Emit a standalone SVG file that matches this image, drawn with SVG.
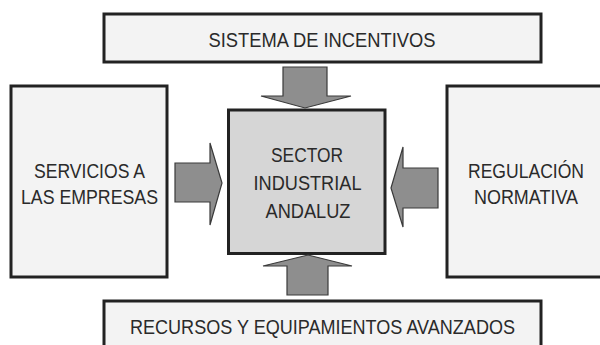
<svg xmlns="http://www.w3.org/2000/svg" width="600" height="345" viewBox="0 0 600 345">
<style>
.box{fill:#f3f3f3;stroke:#222;stroke-width:3}
.core{fill:#d6d6d6;stroke:#222;stroke-width:3}
.arr{fill:#8e8e8e;stroke:#3a3a3a;stroke-width:1.2;stroke-linejoin:miter}
text{font-family:"Liberation Sans",Arial,sans-serif;font-size:20.5px;fill:#2a2a2a;text-anchor:middle}
</style>
<rect width="600" height="345" fill="#ffffff"/>
<g id="top">
<rect class="box" x="104" y="14" width="437" height="48"/>
<text x="322" y="47" textLength="227" lengthAdjust="spacingAndGlyphs">SISTEMA DE INCENTIVOS</text>
</g>
<g id="left">
<rect class="box" x="11" y="86" width="156" height="191"/>
<text x="89.5" y="177.5" textLength="111" lengthAdjust="spacingAndGlyphs">SERVICIOS A</text>
<text x="89.5" y="203.5" textLength="137" lengthAdjust="spacingAndGlyphs">LAS EMPRESAS</text>
</g>
<g id="center">
<rect class="core" x="228.5" y="110" width="156.5" height="143.5"/>
<text x="307" y="162" textLength="72" lengthAdjust="spacingAndGlyphs">SECTOR</text>
<text x="307.5" y="189.5" textLength="108" lengthAdjust="spacingAndGlyphs">INDUSTRIAL</text>
<text x="308" y="218" textLength="85" lengthAdjust="spacingAndGlyphs">ANDALUZ</text>
</g>
<g id="right">
<rect class="box" x="447" y="86" width="156" height="191"/>
<text x="526" y="177.5" textLength="116" lengthAdjust="spacingAndGlyphs">REGULACIÓN</text>
<text x="526" y="203.5" textLength="104" lengthAdjust="spacingAndGlyphs">NORMATIVA</text>
</g>
<g id="bottom">
<rect class="box" x="104" y="301" width="437" height="50"/>
<text x="322.5" y="333.5" textLength="385" lengthAdjust="spacingAndGlyphs">RECURSOS Y EQUIPAMIENTOS AVANZADOS</text>
</g>
<g id="connectors">
<polygon class="arr" points="283,67 327,67 327,96 351,96 305,108 261,96 283,96"/>
<polygon class="arr" points="175,163 210,163 210,143 222,183 210,225 210,202 175,202"/>
<polygon class="arr" points="438,168 403,168 403,147 391,188 403,227 403,208 438,208"/>
<polygon class="arr" points="287,295 328,295 328,266 352,266 308,255 263,266 287,266"/>
</g>
</svg>
